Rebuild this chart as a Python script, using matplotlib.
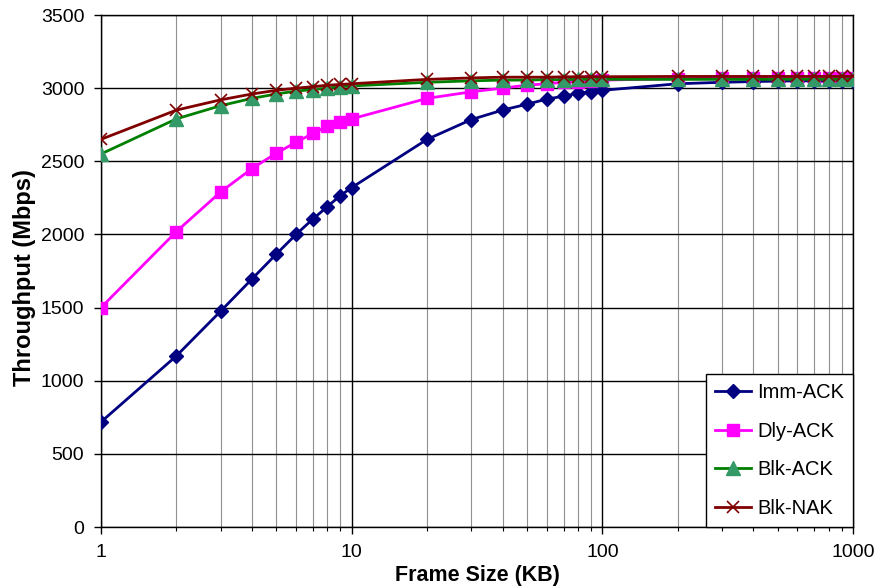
import matplotlib
matplotlib.use("Agg")
import matplotlib.pyplot as plt
from matplotlib.ticker import FixedLocator, NullFormatter

plt.rcParams['font.family'] = ['Liberation Sans', 'DejaVu Sans']

frame_kb = [1, 2, 3, 4, 5, 6, 7, 8, 9, 10,
            20, 30, 40, 50, 60, 70, 80, 90, 100,
            200, 300, 400, 500, 600, 700, 800, 900, 1000]

imm_ack = [718, 1170, 1475, 1695, 1865, 2000, 2105, 2190, 2265, 2320,
           2650, 2785, 2850, 2890, 2925, 2945, 2965, 2975, 2985,
           3030, 3040, 3045, 3048, 3050, 3050, 3050, 3050, 3050]
dly_ack = [1500, 2020, 2290, 2450, 2555, 2630, 2690, 2740, 2770, 2790,
           2930, 2975, 3000, 3020, 3030, 3040, 3045, 3050, 3055,
           3065, 3068, 3070, 3070, 3070, 3070, 3070, 3070, 3070]
blk_ack = [2550, 2790, 2880, 2930, 2960, 2980, 2990, 3000, 3010, 3015,
           3040, 3050, 3055, 3055, 3058, 3058, 3060, 3060, 3060,
           3060, 3060, 3060, 3060, 3060, 3060, 3060, 3060, 3060]
blk_nak = [2650, 2850, 2920, 2960, 2985, 3000, 3010, 3020, 3025, 3030,
           3060, 3070, 3075, 3075, 3075, 3077, 3078, 3078, 3078,
           3080, 3080, 3080, 3080, 3080, 3080, 3080, 3080, 3080]

y_ticks = [0, 500, 1000, 1500, 2000, 2500, 3000, 3500]

fig = plt.figure(figsize=(8.87, 5.88), dpi=100)
ax = fig.add_axes([101 / 887, 1 - 527 / 588, 752 / 887, 512 / 588])

ax.set_xscale('log')
ax.set_xlim(1, 1000)
ax.set_ylim(0, 3500)

# grid: decades and value lines in black, sub-decade lines in gray
ax.set_xticks([1, 10, 100, 1000])
ax.set_xticklabels(['1', '10', '100', '1000'])
minor = [m * d for d in (1, 10, 100) for m in range(2, 10)]
ax.xaxis.set_minor_locator(FixedLocator(minor))
ax.xaxis.set_minor_formatter(NullFormatter())
ax.set_yticks(y_ticks)
ax.grid(True, which='major', axis='both', color='black', linewidth=1.0, zorder=0)
ax.grid(True, which='minor', axis='x', color='#909090', linewidth=0.8, zorder=0)
ax.set_axisbelow(True)

ax.tick_params(axis='both', which='major', direction='out', length=5,
               width=1.0, labelsize=14, color='black')
ax.tick_params(axis='x', which='major', pad=7)
ax.tick_params(axis='y', which='major', pad=7)
ax.tick_params(axis='x', which='minor', direction='out', length=3, width=0.8)
for s in ax.spines.values():
    s.set_color('black')
    s.set_linewidth(1.0)

ax.plot(frame_kb, imm_ack, color='#000080', linewidth=2, marker='D',
        markersize=7.5, markerfacecolor='#000080', markeredgecolor='#000080',
        label='Imm-ACK', zorder=3)
ax.plot(frame_kb, dly_ack, color='#FF00FF', linewidth=2, marker='s',
        markersize=9, markerfacecolor='#FF00FF', markeredgecolor='#FF00FF',
        label='Dly-ACK', zorder=4)
ax.plot(frame_kb, blk_ack, color='#008000', linewidth=2, marker='^',
        markersize=10, markerfacecolor='#339966', markeredgecolor='#339966',
        label='Blk-ACK', zorder=5)
ax.plot(frame_kb, blk_nak, color='#800000', linewidth=2, marker='x',
        markersize=9, markeredgewidth=1.2, markeredgecolor='#800000',
        label='Blk-NAK', zorder=6)

ax.set_xlabel('Frame Size (KB)', fontsize=15.5, fontweight='bold')
ax.set_ylabel('Throughput (Mbps)', fontsize=17, fontweight='bold')
ax.xaxis.set_label_coords(0.5, -0.075)
ax.yaxis.set_label_coords(-0.087, 0.487)

leg = ax.legend(loc='lower right', fontsize=14.5, frameon=True, fancybox=False,
                edgecolor='black', framealpha=1, borderaxespad=0,
                handlelength=1.8, labelspacing=0.97, borderpad=0.45,
                handletextpad=0.3)
leg.get_frame().set_linewidth(1.0)

fig.savefig('out.png', dpi=100)
